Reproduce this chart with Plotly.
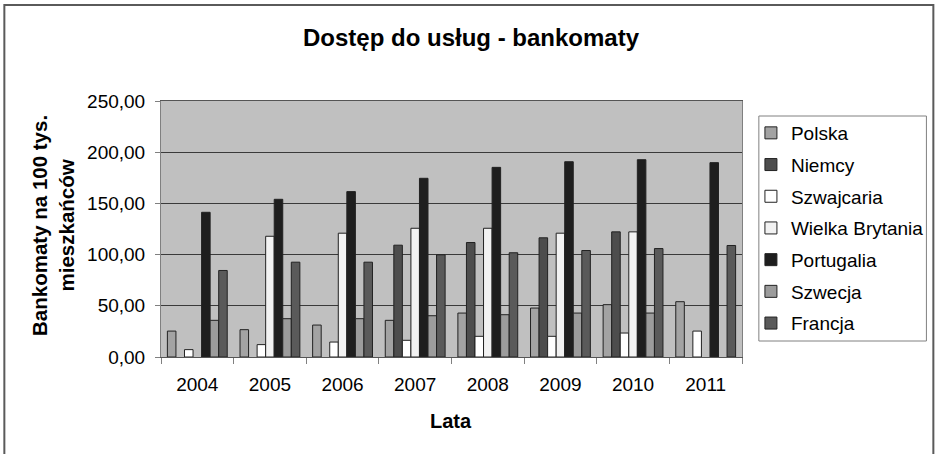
import plotly.graph_objects as go

# Liczba bankomatów na 100 tys. mieszkańców, lata 2004-2011
lata = ["2004", "2005", "2006", "2007", "2008", "2009", "2010", "2011"]

polska = [25.3, 26.7, 31.2, 35.8, 42.9, 47.8, 51.1, 54.0]
niemcy = [None, None, None, 109.2, 111.8, 116.4, 122.2, None]
szwajcaria = [7.2, 12.1, 14.6, 16.3, 20.2, 20.2, 23.4, 25.3]
wielka_brytania = [None, 117.9, 120.9, 125.7, 125.7, 120.9, 122.2, None]
portugalia = [141.3, 154.0, 161.5, 174.5, 185.2, 190.7, 192.7, 189.8]
szwecja = [35.8, 37.4, 37.4, 40.3, 41.3, 42.9, 42.9, None]
francja = [84.5, 92.6, 92.6, 99.8, 101.8, 104.0, 105.9, 108.9]

serie = [
    ("Polska", polska, "#a3a3a3"),
    ("Niemcy", niemcy, "#4d4d4d"),
    ("Szwajcaria", szwajcaria, "#ffffff"),
    ("Wielka Brytania", wielka_brytania, "#f2f2f2"),
    ("Portugalia", portugalia, "#1e1e1e"),
    ("Szwecja", szwecja, "#9c9c9c"),
    ("Francja", francja, "#5a5a5a"),
]

W, H = 941, 454
ML, MR, MT, MB = 161, 194, 101, 97
PW, PH = W - ML - MR, H - MT - MB


def px_x(x):
    return (x - ML) / PW


def px_y(y):
    return (H - MB - y) / PH


FONT = "Liberation Sans, Arial, sans-serif"

fig = go.Figure()
for nazwa, wartosci, kolor in serie:
    fig.add_trace(go.Bar(
        x=lata, y=wartosci, name=nazwa, legendgroup=nazwa,
        marker=dict(color=kolor, line=dict(color="#222222", width=1)),
    ))

fig.update_layout(
    width=W, height=H,
    margin=dict(l=ML, r=MR, t=MT, b=MB),
    paper_bgcolor="white",
    plot_bgcolor="#c0c0c0",
    barmode="group", bargap=0.176, bargroupgap=0,
    separators=", ",
    font=dict(family=FONT, size=19, color="black"),
    title=dict(
        text="<b>Dostęp do usług - bankomaty</b>",
        font=dict(size=24, family=FONT, color="black"),
        x=471 / W, xanchor="center", xref="container",
        y=1 - 38 / H, yanchor="middle", yref="container",
    ),
    showlegend=True,
    legend=dict(
        x=px_x(756), xanchor="left", y=px_y(114), yanchor="top",
        bgcolor="rgba(0,0,0,0)", borderwidth=0,
        font=dict(size=19, family=FONT), tracegroupgap=4,
    ),
    xaxis=dict(
        type="category", tickson="boundaries", ticks="outside", ticklen=6,
        tickcolor="#808080", showline=True, linecolor="#555555", mirror=True,
        showgrid=False, ticklabelstandoff=10,
    ),
    yaxis=dict(
        range=[0, 250], dtick=50, tickformat=".2f", ticks="outside", ticklen=5,
        tickcolor="#808080", showline=True, linecolor="#808080", mirror=True,
        showgrid=True, gridcolor="#3a3a3a", gridwidth=1, zeroline=False,
        ticklabelstandoff=6,
    ),
    annotations=[
        dict(text="<b>Bankomaty na 100 tys.<br>mieszkańców</b>", textangle=-90,
             xref="paper", yref="paper", x=px_x(52), y=px_y(225),
             xanchor="center", yanchor="middle", showarrow=False,
             font=dict(size=20.5, family=FONT)),
        dict(text="<b>Lata</b>", xref="paper", yref="paper",
             x=px_x(453), y=px_y(421), xanchor="center", yanchor="middle",
             showarrow=False, font=dict(size=20, family=FONT)),
    ],
    shapes=[
        # ramka legendy
        dict(type="rect", xref="paper", yref="paper",
             x0=px_x(764), x1=px_x(933), y0=px_y(341), y1=px_y(116),
             line=dict(color="#808080", width=1), fillcolor="rgba(0,0,0,0)",
             layer="below"),
        # ramka całego wykresu
        dict(type="rect", xref="paper", yref="paper",
             x0=px_x(3), x1=px_x(940), y0=px_y(460), y1=px_y(5),
             line=dict(color="#5a5a5a", width=2), fillcolor="rgba(0,0,0,0)",
             layer="below"),
    ],
)

fig.write_html("out.html")
